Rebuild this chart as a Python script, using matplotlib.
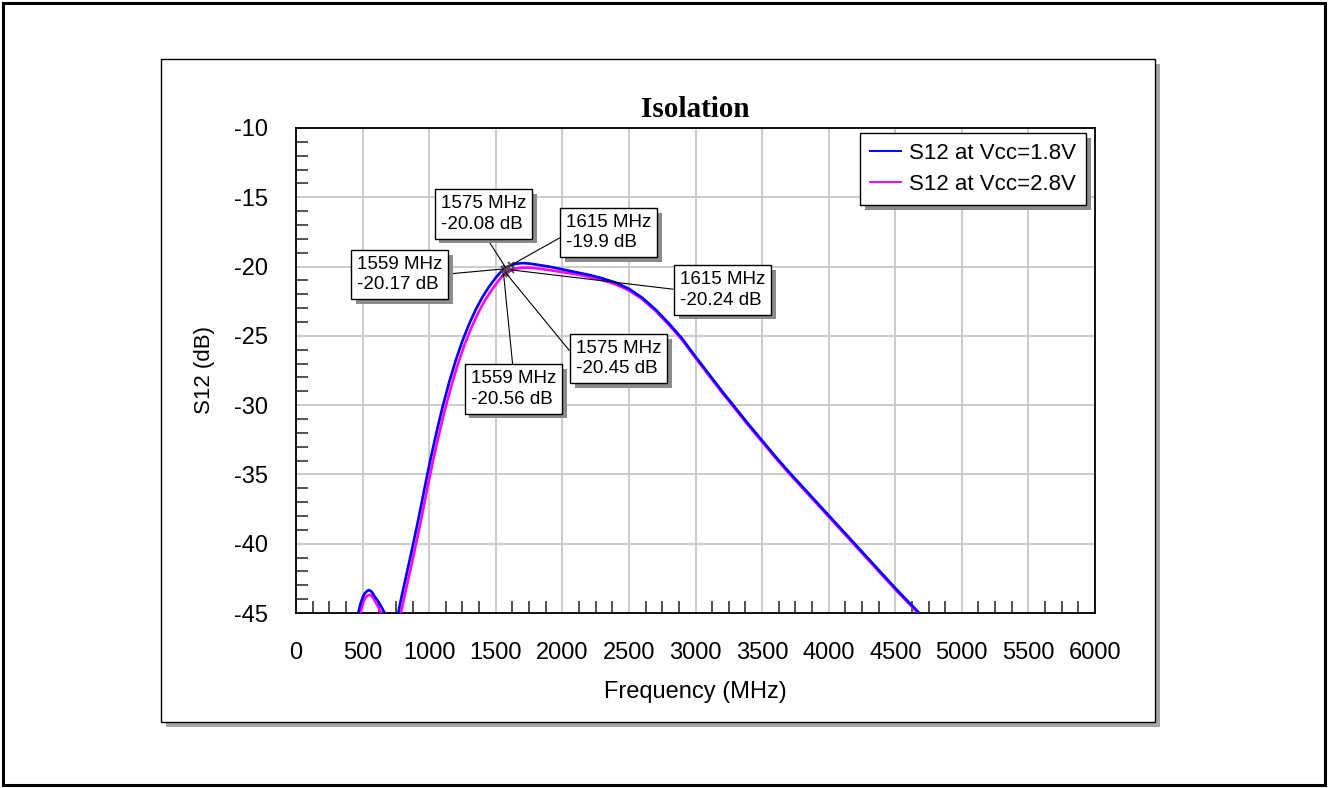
import numpy as np
import matplotlib
matplotlib.use('Agg')
import matplotlib.pyplot as plt
from matplotlib.patches import Rectangle
from matplotlib.ticker import MultipleLocator
import matplotlib.patheffects as pe


W, H = 1328, 788    # output size in pixels

# S12 at Vcc=1.8V  (frequency in MHz, S12 in dB)
freq_18 = [455, 470, 485, 500, 515, 530, 545, 560, 575, 590, 605, 620, 635, 650, 665, 680, 720,
           760, 780, 800, 830, 860, 880, 900, 930, 960, 985, 1010, 1040, 1070, 1100, 1150, 1200,
           1250, 1300, 1350, 1400, 1450, 1500, 1530, 1559, 1575, 1615, 1650, 1700, 1750, 1800, 1900,
           2000, 2100, 2200, 2300, 2400, 2500, 2600, 2700, 2800, 2900, 3000, 3100, 3200, 3300,
           3400, 3500, 3600, 3700, 3800, 3900, 4000, 4100, 4200, 4300, 4400, 4500, 4600, 4700]
s12_18 = [-45.5, -44.9, -44.3, -43.9, -43.6, -43.45, -43.35, -43.4, -43.55, -43.8, -44.0, -44.2,
          -44.45, -44.7, -45.0, -45.4, -46.5,
          -45.4, -44.4, -43.5, -42.2, -40.9, -40.0, -39.1, -37.7, -36.25, -35.05, -33.9, -32.6,
          -31.35, -30.15, -28.35, -26.75, -25.35, -24.15, -23.1, -22.2, -21.45, -20.8, -20.47,
          -20.17, -20.08, -19.9, -19.8, -19.75, -19.78, -19.85, -20.0, -20.2, -20.4, -20.6,
          -20.85, -21.15, -21.6, -22.25, -23.1, -24.1, -25.2, -26.5, -27.75, -29.0, -30.2,
          -31.4, -32.55, -33.7, -34.8, -35.85, -36.9, -37.95, -39.0, -40.05, -41.1, -42.15,
          -43.2, -44.2, -45.2]

# S12 at Vcc=2.8V
freq_28 = [470, 485, 500, 515, 530, 545, 560, 575, 590, 605, 620, 635, 650, 700,
           770, 790, 810, 840, 870, 895, 915, 945, 975, 1000, 1025, 1055, 1085, 1115, 1165,
           1215, 1265, 1315, 1365, 1415, 1465, 1515, 1540, 1559, 1575, 1615, 1650, 1700, 1750, 1800,
           1900, 2000, 2100, 2200, 2300, 2400, 2500, 2600, 2700, 2800, 2900, 3000, 3100, 3200,
           3300, 3400, 3500, 3600, 3700, 3800, 3900, 4000, 4100, 4200, 4300, 4400, 4500, 4600, 4700]
s12_28 = [-45.5, -44.9, -44.4, -44.0, -43.8, -43.7, -43.7, -43.85, -44.1, -44.35, -44.6, -44.9,
          -45.3, -46.5,
          -46.0, -44.9, -44.0, -42.7, -41.4, -40.3, -39.4, -38.0, -36.55, -35.35, -34.2, -32.9,
          -31.65, -30.45, -28.65, -27.05, -25.65, -24.45, -23.4, -22.5, -21.75, -21.1, -20.8,
          -20.56, -20.45, -20.24, -20.15, -20.08, -20.08, -20.12, -20.25, -20.4, -20.55, -20.75,
          -20.98, -21.28, -21.72, -22.35, -23.2, -24.2, -25.3, -26.6, -27.85, -29.1, -30.3,
          -31.5, -32.65, -33.8, -34.9, -35.95, -37.0, -38.05, -39.1, -40.15, -41.2, -42.25,
          -43.3, -44.3, -45.3]

# markers
mk_freq = [1559, 1575, 1615]
mk_18 = [-20.17, -20.08, -19.9]
mk_28 = [-20.56, -20.45, -20.24]

x_ticks = [0, 500, 1000, 1500, 2000, 2500, 3000, 3500, 4000, 4500, 5000, 5500, 6000]
y_ticks = [-45, -40, -35, -30, -25, -20, -15, -10]

FONT = 'Liberation Sans'
plt.rcParams['font.family'] = [FONT, 'DejaVu Sans']
plt.rcParams['axes.unicode_minus'] = False


def fx(x, y):
    # pixel (from top left) -> figure fraction
    return x / W, 1 - y / H


def px_to_data(x, y):
    return (x - 296) * 7.5, -10 - (y - 128) * 35.0 / 485


fig = plt.figure(figsize=(W / 100, H / 100), dpi=100)

# outer frame
fig.patches.append(Rectangle(fx(3, 785), 1322 / W, 782 / H, transform=fig.transFigure,
                             fill=False, ec='black', lw=2.2, zorder=-3))
# inner panel with shadow
fig.patches.append(Rectangle(fx(166, 727), 994 / W, 663 / H, transform=fig.transFigure,
                             fc='#a6a6a6', ec='none', zorder=-2))
fig.patches.append(Rectangle(fx(161, 722), 994 / W, 663 / H, transform=fig.transFigure,
                             fc='white', ec='black', lw=1.0, zorder=-1))

x0, y0 = fx(296, 613)
ax = fig.add_axes([x0, y0, 799 / W, 485 / H])

ax.plot(freq_28, s12_28, color='#ff00ff', lw=1.9, zorder=3, label='S12 at Vcc=2.8V')
ax.plot(freq_18, s12_18, color='#0000ff', lw=1.9, zorder=4, label='S12 at Vcc=1.8V')
ax.plot(mk_freq, mk_18, ls='none', marker='x', ms=5, mew=1.2, color='#404040', zorder=5)
ax.plot(mk_freq, mk_28, ls='none', marker='x', ms=5, mew=1.2, color='#603060', zorder=5)

ax.set_xlim(0, 6000)
ax.set_ylim(-45, -10)
ax.set_xticks(x_ticks)
ax.set_yticks(y_ticks)
ax.xaxis.set_minor_locator(MultipleLocator(125))
ax.yaxis.set_minor_locator(MultipleLocator(1))
ax.tick_params(which='major', length=0, labelsize=17)
ax.tick_params(axis='x', which='major', pad=21)
ax.tick_params(axis='y', which='major', pad=20)
ax.tick_params(which='minor', direction='in', length=8.5, width=1.1, color='#202020')
ax.grid(True, which='major', color='#c8c8c8', lw=1.3)
ax.set_axisbelow(True)
for s in ax.spines.values():
    s.set_linewidth(1.3)
    s.set_color('black')

ax.set_title('Isolation', family='Liberation Serif', fontweight='bold', fontsize=21, pad=8)
ax.set_xlabel('Frequency (MHz)', fontsize=17, labelpad=12)
ax.set_ylabel('S12 (dB)', fontsize=16, labelpad=14)

# legend (blue first)
h, l = ax.get_legend_handles_labels()
leg = ax.legend(h[::-1], l[::-1], loc='upper right', bbox_to_anchor=fx(1086, 133),
                bbox_transform=fig.transFigure, fontsize=16, fancybox=False,
                framealpha=1, edgecolor='black', borderaxespad=0, handlelength=1.4,
                handletextpad=0.35, labelspacing=0.45, borderpad=0.45)
leg.get_frame().set_linewidth(1.0)
leg.get_frame().set_path_effects([pe.SimplePatchShadow(offset=(3.5, -3.5), shadow_rgbFace='#8c8c8c', alpha=1),
                                  pe.Normal()])
for ln in leg.get_lines():
    ln.set_linewidth(1.4)

# marker labels: (value, box centre in pixels, start point of the leader line on the box)
notes = [
    (mk_freq[1], mk_18[1], (483.5, 214), (0.5, 0)),
    (mk_freq[2], mk_18[2], (609, 232.5), (0, 0.45)),
    (mk_freq[0], mk_18[0], (400, 274.5), (1, 0.5)),
    (mk_freq[2], mk_28[2], (723, 290), (0, 0.5)),
    (mk_freq[1], mk_28[1], (619, 358.5), (0, 0.5)),
    (mk_freq[0], mk_28[0], (513.5, 389), (0.5, 1)),
]
for f, v, pos, rp in notes:
    t = ax.annotate('%d MHz\n%s dB' % (f, ('%.2f' % v).rstrip('0')), xy=(f, v),
                    xytext=px_to_data(*pos), ha='center', va='center', fontsize=13.5,
                    multialignment='left', linespacing=1.25, zorder=6,
                    bbox=dict(boxstyle='square,pad=0.32', fc='white', ec='black', lw=1.0),
                    arrowprops=dict(arrowstyle='-', color='black', lw=0.8, relpos=rp,
                                    shrinkA=0, shrinkB=0))
    t.get_bbox_patch().set_path_effects([pe.SimplePatchShadow(offset=(3.5, -3.5), shadow_rgbFace='#8c8c8c', alpha=1),
                                         pe.Normal()])

fig.savefig('out.png', dpi=100)
